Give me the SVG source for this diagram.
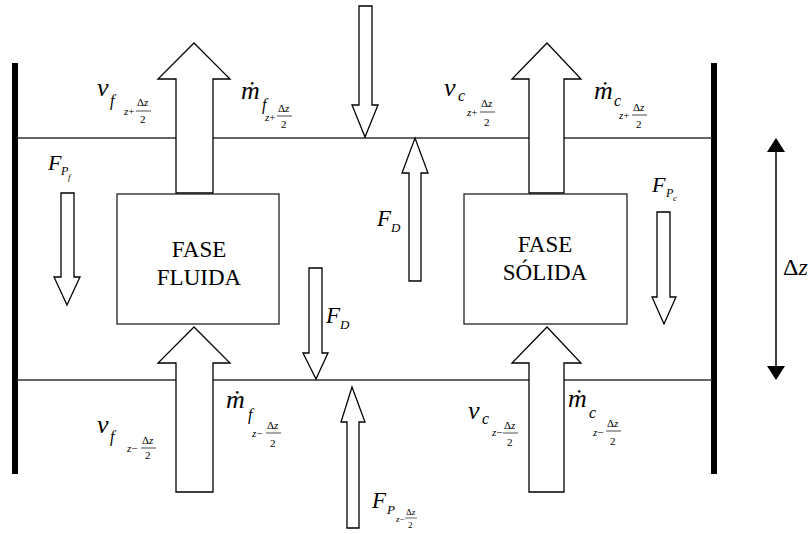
<svg xmlns="http://www.w3.org/2000/svg" width="809" height="534" viewBox="0 0 809 534">
<style>
.ln{stroke:#333;stroke-width:1.3;fill:none}
.ar{fill:#fff;stroke:#000;stroke-width:1.3;stroke-linejoin:miter}
.bx{fill:#fff;stroke:#222;stroke-width:1.3}
.bar{fill:#000}
.t{font-family:'Liberation Serif','Times New Roman',Times,'DejaVu Serif',serif}
.i{font-style:italic}
.big{font-size:26px}
.sub{font-size:16px}
.ss{font-size:11px}
.lbl{font-size:23px;text-anchor:middle}
</style>
<rect width="809" height="534" fill="#fff"/>
<g id="walls">
<rect class="bar" x="12" y="63" width="6" height="411"/>
<rect class="bar" x="711" y="63" width="6" height="411"/>
<line class="ln" x1="17" y1="138" x2="712" y2="138"/>
<line class="ln" x1="17" y1="380" x2="712" y2="380"/>
</g>
<g id="connectors">
<polygon class="ar" points="176,193 176,79 158,79 194,43 230,79 213,79 213,193"/>
<polygon class="ar" points="529,193 529,79 512,79 547,43 581,79 564,79 564,193"/>
<polygon class="ar" points="176,492 176,363 158,363 194,327 230,363 213,363 213,492"/>
<polygon class="ar" points="529,492 529,363 512,363 547,327 581,363 564,363 564,492"/>
<polygon class="ar" points="359,6 372,6 372,105 378,105 365,137 352,105 359,105"/>
<polygon class="ar" points="409,281 409,173 402,173 415,138 428,173 421,173 421,281"/>
<polygon class="ar" points="309,268 322,268 322,353 328,353 316,379 303,353 309,353"/>
<polygon class="ar" points="347,528 347,422 341,422 352,387 365,422 359,422 359,528"/>
<polygon class="ar" points="61,193 74,193 74,277 80,277 67,305 54,277 61,277"/>
<polygon class="ar" points="657,212 670,212 670,297 676,297 664,324 652,297 657,297"/>
<line x1="776" y1="150" x2="776" y2="368" stroke="#000" stroke-width="1.5"/>
<polygon points="767,152 785,152 776,138" fill="#000"/>
<polygon points="767,366 785,366 776,380" fill="#000"/>
</g>
<g class="t" fill="#000">
<g id="fase-fluida">
<rect class="bx" x="117" y="194" width="162" height="130"/>
<text class="t lbl" x="199" y="257">FASE</text>
<text class="t lbl" x="199" y="285">FLUIDA</text>
</g>
<g id="fase-solida">
<rect class="bx" x="464" y="194" width="163" height="130"/>
<text class="t lbl" x="545" y="252">FASE</text>
<text class="t lbl" x="545" y="280">SÓLIDA</text>
</g>
<g id="labels">
<text class="t i big" x="97" y="96">v</text>
<text class="t i sub" x="110" y="106">f</text>
<text class="t ss" x="124" y="115"><tspan class="i">z</tspan>+</text>
<text class="t ss" x="137" y="106">Δ<tspan class="i">z</tspan></text>
<line x1="136" y1="111" x2="151" y2="111" stroke="#000" stroke-width="0.7"/>
<text class="t ss" x="140" y="123">2</text>

<text class="t i big" x="241" y="99">ṁ</text>
<text class="t i sub" x="262" y="110">f</text>
<text class="t ss" x="265" y="121"><tspan class="i">z</tspan>+</text>
<text class="t ss" x="278" y="112">Δ<tspan class="i">z</tspan></text>
<line x1="277" y1="116" x2="292" y2="116" stroke="#000" stroke-width="0.7"/>
<text class="t ss" x="281" y="128">2</text>

<text class="t i big" x="444" y="96">v</text>
<text class="t i sub" x="458" y="101">c</text>
<text class="t ss" x="467" y="116"><tspan class="i">z</tspan>+</text>
<text class="t ss" x="481" y="107">Δ<tspan class="i">z</tspan></text>
<line x1="480" y1="112" x2="495" y2="112" stroke="#000" stroke-width="0.7"/>
<text class="t ss" x="484" y="126">2</text>

<text class="t i big" x="594" y="99">ṁ</text>
<text class="t i sub" x="614" y="106">c</text>
<text class="t ss" x="619" y="119"><tspan class="i">z</tspan>+</text>
<text class="t ss" x="633" y="111">Δ<tspan class="i">z</tspan></text>
<line x1="632" y1="115" x2="647" y2="115" stroke="#000" stroke-width="0.7"/>
<text class="t ss" x="636" y="128">2</text>

<text class="t i big" x="97" y="433">v</text>
<text class="t i sub" x="110" y="442">f</text>
<text class="t ss" x="127" y="452"><tspan class="i">z</tspan>−</text>
<text class="t ss" x="142" y="444">Δ<tspan class="i">z</tspan></text>
<line x1="141" y1="448" x2="156" y2="448" stroke="#000" stroke-width="0.7"/>
<text class="t ss" x="145" y="459">2</text>

<text class="t i big" x="226" y="408">ṁ</text>
<text class="t i sub" x="248" y="420">f</text>
<text class="t ss" x="252" y="437"><tspan class="i">z</tspan>−</text>
<text class="t ss" x="267" y="429">Δ<tspan class="i">z</tspan></text>
<line x1="266" y1="433" x2="281" y2="433" stroke="#000" stroke-width="0.7"/>
<text class="t ss" x="270" y="447">2</text>

<text class="t i big" x="468" y="419">v</text>
<text class="t i sub" x="482" y="424">c</text>
<text class="t ss" x="492" y="436"><tspan class="i">z</tspan>−</text>
<text class="t ss" x="504" y="429">Δ<tspan class="i">z</tspan></text>
<line x1="503" y1="433" x2="518" y2="433" stroke="#000" stroke-width="0.7"/>
<text class="t ss" x="507" y="446">2</text>

<text class="t i big" x="568" y="407">ṁ</text>
<text class="t i sub" x="589" y="418">c</text>
<text class="t ss" x="593" y="436"><tspan class="i">z</tspan>−</text>
<text class="t ss" x="607" y="427">Δ<tspan class="i">z</tspan></text>
<line x1="606" y1="431" x2="621" y2="431" stroke="#000" stroke-width="0.7"/>
<text class="t ss" x="610" y="445">2</text>

<text class="t i" font-size="22" x="48" y="170">F</text>
<text class="t i" font-size="12" x="61" y="175">P</text>
<text class="t i" font-size="9" x="68" y="180">f</text>

<text class="t i" font-size="22" x="652" y="192">F</text>
<text class="t i" font-size="12" x="666" y="197">P</text>
<text class="t i" font-size="9" x="673" y="201">c</text>

<text class="t i" font-size="23" x="377" y="226">F</text>
<text class="t i" font-size="13" x="391" y="232">D</text>

<text class="t i" font-size="23" x="326" y="323">F</text>
<text class="t i" font-size="13" x="340" y="329">D</text>

<text class="t i" font-size="23" x="372" y="508">F</text>
<text class="t i" font-size="13" x="387" y="514">P</text>
<text class="t" font-size="9" x="396" y="522"><tspan class="i">z</tspan>−</text>
<text class="t" font-size="9" x="406" y="515">Δ<tspan class="i">z</tspan></text>
<line x1="405" y1="518" x2="417" y2="518" stroke="#000" stroke-width="0.6"/>
<text class="t" font-size="9" x="408" y="528">2</text>

<text class="t" font-size="24" x="783" y="275">Δ<tspan class="i">z</tspan></text>
</g>
</g>
</svg>
